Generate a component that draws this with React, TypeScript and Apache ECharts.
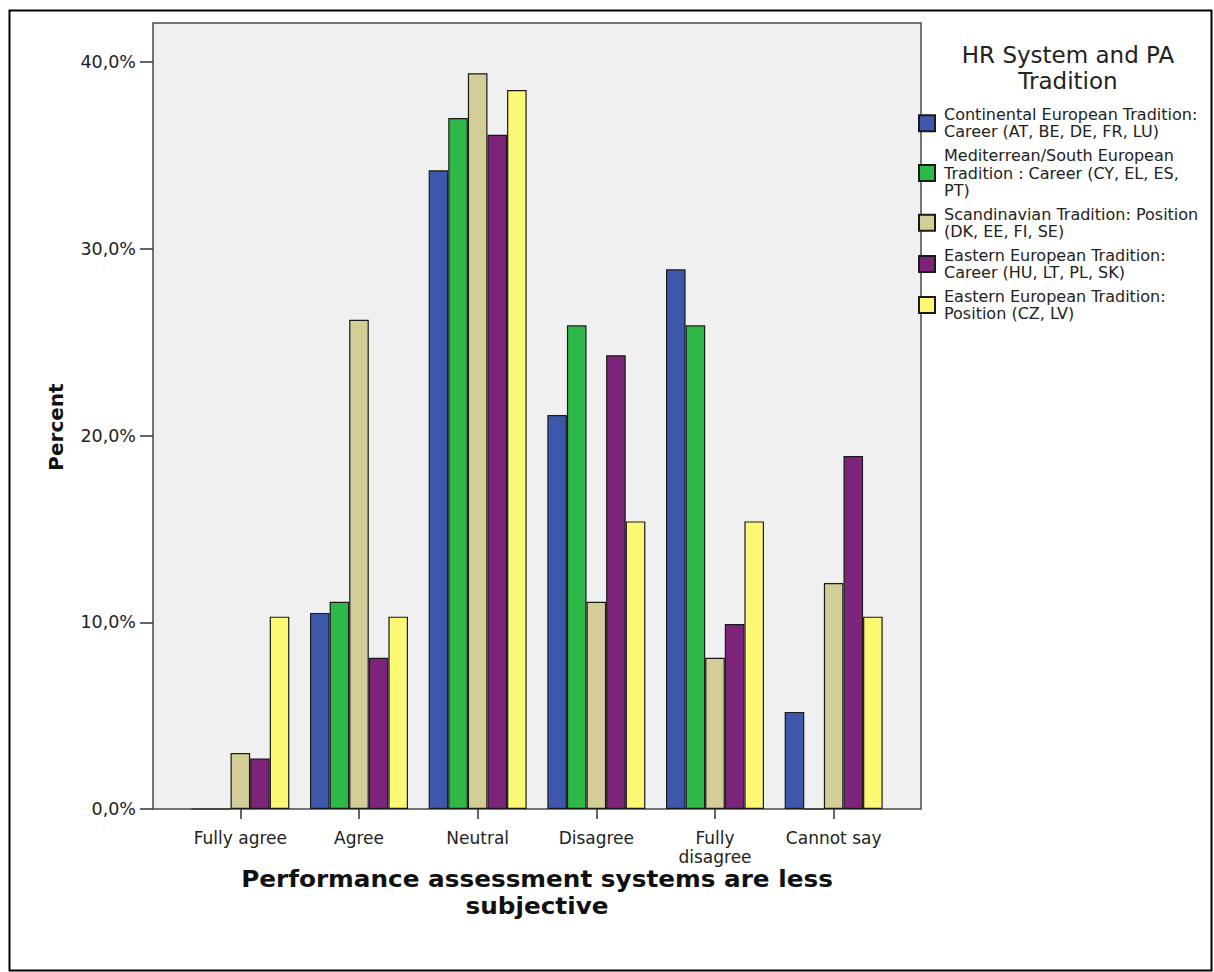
import React, { useEffect, useRef } from "react";
import * as echarts from "echarts";

const categories = ["Fully agree", "Agree", "Neutral", "Disagree", "Fully disagree", "Cannot say"];

const legendLabels = [
  "Continental European Tradition:\nCareer (AT, BE, DE, FR, LU)",
  "Mediterrean/South European\nTradition : Career (CY, EL, ES,\nPT)",
  "Scandinavian Tradition: Position\n(DK, EE, FI, SE)",
  "Eastern European Tradition:\nCareer (HU, LT, PL, SK)",
  "Eastern European Tradition:\nPosition (CZ, LV)",
];
const seriesNames = legendLabels.map((s) => s.replace(/\n/g, " "));

const continental = [0, 10.5, 34.2, 21.1, 28.9, 5.2];
const mediterranean = [0, 11.1, 37.0, 25.9, 25.9, 0];
const scandinavian = [3.0, 26.2, 39.4, 11.1, 8.1, 12.1];
const easternCareer = [2.7, 8.1, 36.1, 24.3, 9.9, 18.9];
const easternPosition = [10.3, 10.3, 38.5, 15.4, 15.4, 10.3];

const seriesValues = [continental, mediterranean, scandinavian, easternCareer, easternPosition];
const colors = ["#3D58AB", "#2EB848", "#D3CE97", "#7B2479", "#FBF873"];

const yTicks = [0, 10, 20, 30, 40];

const xTitle = "Performance assessment systems are less\nsubjective";
const yTitle = "Percent";
const legendTitle = "HR System and PA\nTradition";

const FONT = "'DejaVu Sans', sans-serif";

export default function App() {
  const ref = useRef<HTMLDivElement>(null);
  useEffect(() => {
    if (!ref.current) return;
    const chart = echarts.init(ref.current, null, { renderer: "svg" });
    const legendMap: Record<string, string> = {};
    seriesNames.forEach((n, i) => (legendMap[n] = legendLabels[i]));
    chart.setOption({
      animation: false,
      backgroundColor: "#ffffff",
      title: {
        text: legendTitle,
        left: 1063,
        top: 37,
        textAlign: "center",
        textStyle: { fontFamily: FONT, fontWeight: "normal", fontSize: 23, lineHeight: 26, color: "#222" },
      },
      legend: {
        orient: "vertical",
        left: 918,
        top: 106,
        padding: 0,
        itemWidth: 16,
        itemHeight: 16,
        itemGap: 6.5,
        icon: "rect",
        data: seriesNames,
        formatter: (n: string) => legendMap[n] || n,
        textStyle: { fontFamily: FONT, fontSize: 16, lineHeight: 17.3, color: "#222", padding: [0, 0, 0, 4] },
      },
      graphic: [
        {
          type: "rect",
          z: 0,
          silent: true,
          shape: { x: 153, y: 23, width: 768, height: 786 },
          style: { fill: "#F0F0F0", stroke: "#4a4a4a", lineWidth: 1.5 },
        },
        {
          type: "rect",
          z: 0,
          silent: true,
          shape: { x: 9.5, y: 10.5, width: 1202, height: 960 },
          style: { fill: "none", stroke: "#000", lineWidth: 2 },
        },
        {
          type: "text",
          x: 56,
          y: 427,
          rotation: Math.PI / 2,
          silent: true,
          style: {
            text: yTitle,
            align: "center",
            verticalAlign: "middle",
            fontFamily: FONT,
            fontWeight: "bold",
            fontSize: 20,
            fill: "#111",
          },
        },
        {
          type: "text",
          x: 537,
          y: 865.5,
          scaleX: 1.075,
          silent: true,
          style: {
            text: xTitle,
            align: "center",
            verticalAlign: "top",
            fontFamily: FONT,
            fontWeight: "bold",
            fontSize: 23,
            lineHeight: 27,
            fill: "#111",
          },
        },
      ],
      grid: { left: 181, right: 321, top: 62, bottom: 163, containLabel: false },
      xAxis: {
        type: "category",
        data: categories,
        boundaryGap: true,
        axisLine: { show: false },
        axisTick: { show: true, alignWithLabel: true, length: 10, lineStyle: { color: "#333", width: 1.5 } },
        axisLabel: {
          margin: 19,
          interval: 0,
          fontFamily: FONT,
          fontSize: 17,
          lineHeight: 19.5,
          color: "#222",
          formatter: (v: string) => (v === "Fully disagree" ? "Fully\ndisagree" : v),
        },
      },
      yAxis: {
        type: "value",
        min: 0,
        max: 40,
        interval: 10,
        offset: 28,
        axisLine: { show: false },
        splitLine: { show: false },
        axisTick: { show: true, length: 13, lineStyle: { color: "#333", width: 1.5 } },
        axisLabel: {
          margin: 17,
          fontFamily: FONT,
          fontSize: 17.5,
          color: "#222",
          customValues: yTicks,
          formatter: (v: number) => v.toFixed(1).replace(".", ",") + "%",
        },
      },
      series: seriesValues.map((vals, i) => ({
        type: "bar",
        name: seriesNames[i],
        data: vals,
        barWidth: 19.6,
        barGap: "0%",
        itemStyle: { color: colors[i], borderColor: "#1a1a1a", borderWidth: 1.2 },
      })),
    });
    return () => chart.dispose();
  }, []);
  return (
    <div
      ref={ref}
      style={{ position: "absolute", left: 0, top: 0, width: 1214, height: 972 }}
    />
  );
}
